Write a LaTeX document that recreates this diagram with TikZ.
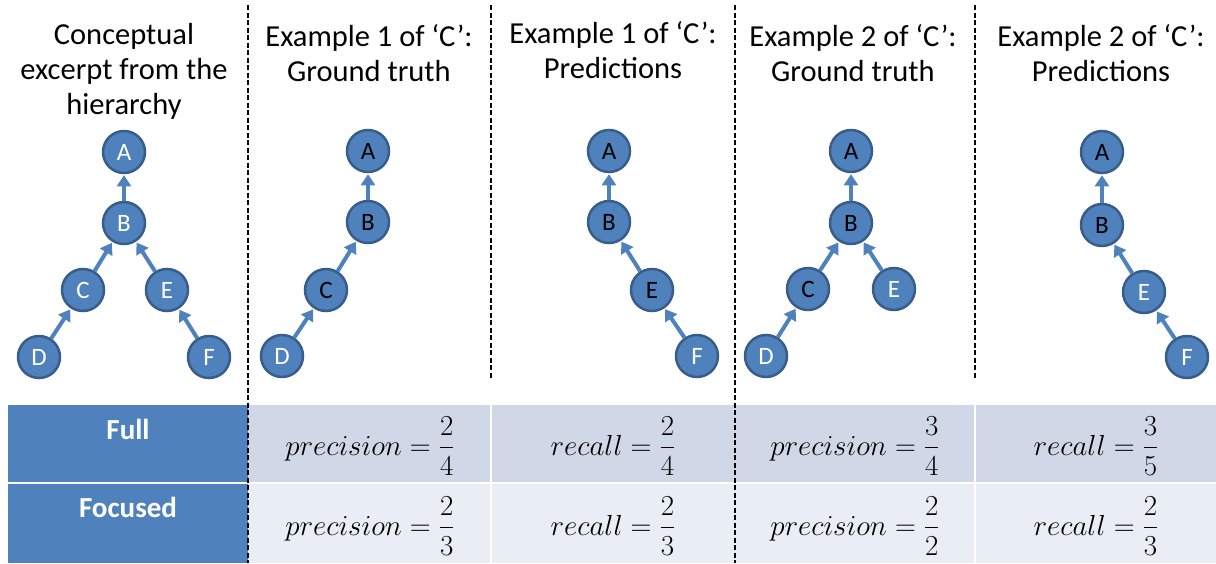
\documentclass[tikz,border=0pt]{standalone}
\usepackage{fix-cm}
\usepackage[no-math]{fontspec}
\setmainfont{Carlito}
\usepackage{amsmath}
\usetikzlibrary{arrows.meta}
\definecolor{nodeblue}{HTML}{4F81BD}
\definecolor{rimblue}{HTML}{385D8A}
\definecolor{fullrow}{HTML}{D0D8E8}
\definecolor{focusrow}{HTML}{E9EDF4}

\begin{document}
\begin{tikzpicture}[x=1pt,y=-1pt]
		\tikzstyle{vertex}=[circle,fill=nodeblue,draw=rimblue,line width=2.5pt,minimum size=42pt,inner sep=0pt,text=white,font=\fontsize{25}{28}\selectfont]
		\tikzstyle{hit}=[vertex,text=black]
		\tikzstyle{link}=[-{Triangle[length=11pt,width=14pt]},line width=4pt,draw=nodeblue,shorten >=1pt]
		\tikzstyle{title}=[align=center,font=\fontsize{30.5}{35}\selectfont]
		\tikzstyle{divider}=[dash pattern=on 5pt off 2.5pt,line width=2pt]
		\tikzstyle{score}=[font=\fontsize{29}{34}\selectfont]
		\tikzstyle{rowname}=[text=white,font=\fontsize{29}{34}\selectfont\bfseries]
		\useasboundingbox (0,0) rectangle (1216,563);

		% table
		\fill[fullrow] (248,405) rectangle (1216,483);
		\fill[focusrow] (248,483) rectangle (1216,563);
		\fill[nodeblue] (8,405) rectangle (248,563);
		\draw[white,line width=2pt] (8,483) -- (1216,483);
		\draw[white,line width=2pt] (491,405) -- (491,563);
		\draw[white,line width=2pt] (975,405) -- (975,563);

		\node[rowname] (full) at (128,429) {Full};
		\node[rowname] (focused) at (128,507) {Focused};

		\node[score] (s12) at (370,446) {$precision=\dfrac{2}{4}$};
		\node[score] (s13) at (613,446) {$recall=\dfrac{2}{4}$};
		\node[score] (s14) at (855,446) {$precision=\dfrac{3}{4}$};
		\node[score] (s15) at (1096,446) {$recall=\dfrac{3}{5}$};
		\node[score] (s22) at (370,526) {$precision=\dfrac{2}{3}$};
		\node[score] (s23) at (613,526) {$recall=\dfrac{2}{3}$};
		\node[score] (s24) at (855,526) {$precision=\dfrac{2}{2}$};
		\node[score] (s25) at (1096,526) {$recall=\dfrac{2}{3}$};

		% column separators
		\draw[divider] (248,5) -- (248,563);
		\draw[divider] (491,5) -- (491,378);
		\draw[divider] (735,5) -- (735,563);
		\draw[divider] (975,5) -- (975,378);

		% headings
		\node[title] (h1) at (124,71) {Conceptual\\excerpt from the\\hierarchy};
		\node[title] (h2) at (369,53) {Example 1 of ‘C’:\\Ground truth};
		\node[title] (h3) at (613,50) {Example 1 of ‘C’:\\Predictions};
		\node[title] (h4) at (853,53) {Example 2 of ‘C’:\\Ground truth};
		\node[title] (h5) at (1101,53) {Example 2 of ‘C’:\\Predictions};

		% hierarchy
		\node[vertex] (A1) at (124,152) {A};
		\node[vertex] (B1) at (124,223) {B};
		\node[vertex] (C1) at (83,290) {C};
		\node[vertex] (E1) at (167,290) {E};
		\node[vertex] (D1) at (39,357) {D};
		\node[vertex] (F1) at (209,357) {F};
		\draw[link] (B1) -- (A1);
		\draw[link] (C1) -- (B1);
		\draw[link] (E1) -- (B1);
		\draw[link] (D1) -- (C1);
		\draw[link] (F1) -- (E1);

		% example 1, ground truth
		\node[hit] (A2) at (368,151) {A};
		\node[hit] (B2) at (368,222) {B};
		\node[hit] (C2) at (326,290) {C};
		\node[vertex] (D2) at (282,356) {D};
		\draw[link] (B2) -- (A2);
		\draw[link] (C2) -- (B2);
		\draw[link] (D2) -- (C2);

		% example 1, predictions
		\node[hit] (A3) at (609,151) {A};
		\node[hit] (B3) at (609,222) {B};
		\node[hit] (E3) at (652,290) {E};
		\node[vertex] (F3) at (697,356) {F};
		\draw[link] (B3) -- (A3);
		\draw[link] (E3) -- (B3);
		\draw[link] (F3) -- (E3);

		% example 2, ground truth
		\node[hit] (A4) at (851,151) {A};
		\node[hit] (B4) at (851,223) {B};
		\node[hit] (C4) at (808,289) {C};
		\node[vertex] (E4) at (894,289) {E};
		\node[vertex] (D4) at (766,356) {D};
		\draw[link] (B4) -- (A4);
		\draw[link] (C4) -- (B4);
		\draw[link] (E4) -- (B4);
		\draw[link] (D4) -- (C4);

		% example 2, predictions
		\node[hit] (A5) at (1102,152) {A};
		\node[hit] (B5) at (1102,225) {B};
		\node[vertex] (E5) at (1144,292) {E};
		\node[vertex] (F5) at (1187,357) {F};
		\draw[link] (B5) -- (A5);
		\draw[link] (E5) -- (B5);
		\draw[link] (F5) -- (E5);
\end{tikzpicture}
\end{document}
